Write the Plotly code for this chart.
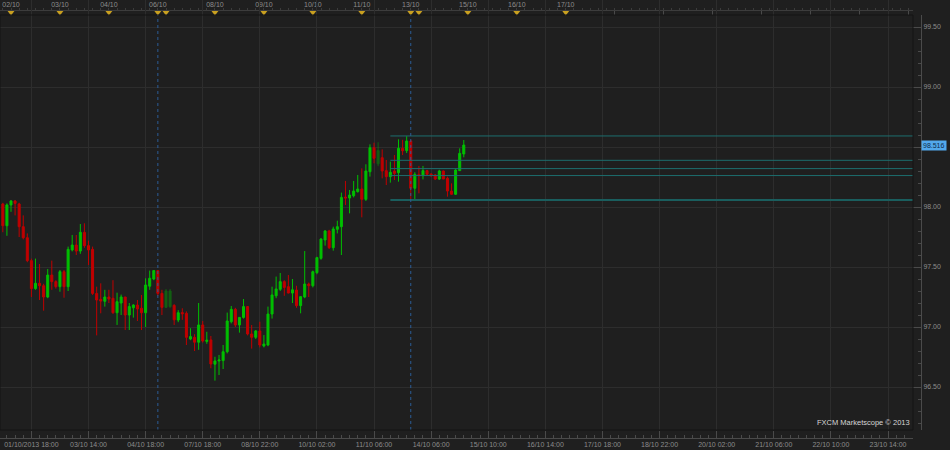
import plotly.graph_objects as go

# ---------------- data (2-hour candles, x = bar number, 0 = 02/10 00:00) ----------------
bar_no = list(range(-2, 112))
opens = [98.025, 97.844, 98.017, 98.050, 98.025, 97.836, 97.744, 97.553, 97.320, 97.364,
         97.344, 97.250, 97.433, 97.378, 97.336, 97.461, 97.336, 97.642, 97.683, 97.633,
         97.789, 97.678, 97.647, 97.280, 97.230, 97.214, 97.250, 97.239, 97.119, 97.200,
         97.250, 97.100, 97.160, 97.183, 97.156, 97.119, 97.340, 97.400, 97.470, 97.280,
         97.164, 97.170, 97.180, 97.058, 97.120, 97.114, 96.900, 96.914, 96.873, 97.017,
         96.880, 96.892, 96.690, 96.717, 96.720, 96.794, 97.044, 97.147, 97.017, 97.080,
         97.170, 96.942, 96.914, 96.967, 96.842, 96.850, 97.108, 97.260, 97.314, 97.378,
         97.336, 97.283, 97.308, 97.178, 97.250, 97.358, 97.344, 97.453, 97.572, 97.725,
         97.800, 97.661, 97.814, 97.836, 98.083, 98.075, 98.094, 98.128, 98.150, 98.064,
         98.294, 98.494, 98.360, 98.411, 98.303, 98.253, 98.300, 98.286, 98.489, 98.470,
         98.550, 98.156, 98.272, 98.261, 98.303, 98.275, 98.267, 98.233, 98.300, 98.239,
         98.133, 98.106, 98.303, 98.442]
highs = [98.035, 98.030, 98.058, 98.058, 98.035, 97.930, 97.780, 97.570, 97.570, 97.525,
         97.360, 97.483, 97.553, 97.390, 97.475, 97.475, 97.670, 97.767, 97.767, 97.858,
         97.864, 97.720, 97.670, 97.336, 97.364, 97.310, 97.310, 97.390, 97.286, 97.270,
         97.250, 97.200, 97.190, 97.225, 97.267, 97.406, 97.470, 97.475, 97.475, 97.310,
         97.317, 97.317, 97.190, 97.140, 97.156, 97.130, 96.990, 96.940, 97.200, 97.050,
         96.960, 96.925, 96.752, 96.767, 96.850, 97.120, 97.175, 97.160, 97.040, 97.233,
         97.175, 97.017, 96.975, 97.044, 96.933, 97.170, 97.336, 97.420, 97.450, 97.390,
         97.433, 97.400, 97.344, 97.250, 97.633, 97.370, 97.470, 97.585, 97.740, 97.808,
         97.810, 97.836, 97.886, 98.120, 98.217, 98.142, 98.217, 98.267, 98.322, 98.356,
         98.522, 98.536, 98.540, 98.480, 98.392, 98.378, 98.433, 98.564, 98.560, 98.590,
         98.560, 98.290, 98.342, 98.342, 98.310, 98.280, 98.275, 98.310, 98.303, 98.253,
         98.197, 98.320, 98.489, 98.558]
lows = [97.790, 97.760, 97.960, 97.930, 97.750, 97.730, 97.540, 97.250, 97.310, 97.225,
        97.136, 97.240, 97.310, 97.320, 97.294, 97.244, 97.300, 97.630, 97.600, 97.610,
        97.660, 97.517, 97.267, 96.930, 97.114, 97.170, 97.200, 97.110, 97.017, 97.100,
        96.975, 96.975, 97.078, 97.050, 96.975, 97.000, 97.310, 97.390, 97.260, 97.100,
        97.160, 97.160, 97.017, 97.040, 97.060, 96.850, 96.890, 96.800, 96.810, 96.870,
        96.860, 96.656, 96.553, 96.600, 96.650, 96.780, 97.030, 97.000, 96.953, 97.070,
        96.930, 96.820, 96.900, 96.830, 96.830, 96.840, 97.070, 97.240, 97.300, 97.260,
        97.280, 97.200, 97.160, 97.114, 97.240, 97.250, 97.330, 97.440, 97.560, 97.678,
        97.650, 97.636, 97.780, 97.600, 98.017, 97.947, 98.080, 98.120, 97.914, 98.050,
        98.253, 98.364, 98.340, 98.239, 98.183, 98.203, 98.225, 98.211, 98.433, 98.450,
        98.058, 98.058, 98.114, 98.230, 98.260, 98.250, 98.225, 98.225, 98.236, 98.086,
        98.100, 98.100, 98.300, 98.414]
closes = [97.844, 98.017, 98.050, 98.030, 97.836, 97.744, 97.553, 97.320, 97.364, 97.344,
          97.250, 97.433, 97.378, 97.336, 97.461, 97.336, 97.647, 97.683, 97.633, 97.789,
          97.678, 97.642, 97.280, 97.225, 97.216, 97.250, 97.233, 97.119, 97.211, 97.250,
          97.100, 97.170, 97.183, 97.150, 97.119, 97.350, 97.406, 97.470, 97.280, 97.164,
          97.300, 97.300, 97.060, 97.119, 97.110, 96.914, 96.920, 96.873, 97.017, 96.883,
          96.890, 96.692, 96.717, 96.725, 96.794, 97.050, 97.147, 97.017, 97.080, 97.170,
          96.942, 96.914, 96.967, 96.850, 96.858, 97.108, 97.267, 97.317, 97.378, 97.330,
          97.283, 97.310, 97.178, 97.253, 97.358, 97.344, 97.461, 97.578, 97.733, 97.800,
          97.661, 97.817, 97.836, 98.080, 98.075, 98.100, 98.133, 98.150, 98.064, 98.300,
          98.494, 98.406, 98.470, 98.300, 98.253, 98.289, 98.280, 98.489, 98.469, 98.550,
          98.156, 98.272, 98.261, 98.303, 98.272, 98.261, 98.233, 98.300, 98.233, 98.133,
          98.106, 98.308, 98.447, 98.516]
dim_bars = [38, 39, 90]

# bottom time axis
time_ticks = [5, 19, 33, 47, 61, 75, 89, 103, 117, 131, 145, 159, 173, 187, 201, 215]
time_labels = ["01/10/2013 18:00", "03/10 14:00", "04/10 18:00", "07/10 18:00", "08/10 22:00",
               "10/10 02:00", "11/10 06:00", "14/10 06:00", "15/10 10:00", "16/10 14:00",
               "17/10 18:00", "18/10 22:00", "20/10 02:00", "21/10 06:00", "22/10 10:00",
               "23/10 14:00"]
# top day axis
day_ticks = [0, 12, 24, 36, 38, 50, 62, 74, 86, 98, 100, 112, 124, 136,
             148, 160, 172, 184, 196, 208, 220]
day_labels = ["02/10", "03/10", "04/10", "06/10", "", "08/10", "09/10", "10/10", "11/10",
              "13/10", "", "15/10", "16/10", "17/10", "", "", "", "", "", "", ""]
day_markers = [0, 12, 24, 36, 38, 50, 62, 74, 86, 98, 100, 112, 124, 136]
session_breaks = [36, 98]

price_ticks = [96.5, 97.0, 97.5, 98.0, 98.5, 99.0, 99.5]
price_labels = ["96.50", "97.00", "97.50", "98.00", "", "99.00", "99.50"]  # 98.50 hidden by price box
level_start = 93
levels = [98.592, 98.389, 98.320, 98.262, 98.058]
last_price = 98.516

# ---------------- figure ----------------
X_RANGE = [-2.697, 221.13]
Y_RANGE = [96.1417, 99.6]
GREEN = "#00bf00"
RED = "#c00000"
AXC = "#8c8c8c"
FONT = "Liberation Sans"

norm = [k for k, b in enumerate(bar_no) if b not in dim_bars]
dim = [k for k, b in enumerate(bar_no) if b in dim_bars]


def pick(lst, idx):
    return [lst[k] for k in idx]


fig = go.Figure()
for idx, op in ((norm, 1.0), (dim, 0.4)):
    fig.add_trace(go.Candlestick(
        x=pick(bar_no, idx), open=pick(opens, idx), high=pick(highs, idx),
        low=pick(lows, idx), close=pick(closes, idx),
        increasing=dict(line=dict(color=GREEN, width=1), fillcolor=GREEN),
        decreasing=dict(line=dict(color=RED, width=1), fillcolor=RED),
        whiskerwidth=0, opacity=op, hoverinfo="skip", showlegend=False))

for i, lv in enumerate(levels):
    fig.add_trace(go.Scatter(
        x=[level_start, X_RANGE[1]], y=[lv, lv], mode="lines",
        line=dict(color="#1d6e6e" if i < 4 else "#1a5e5e", width=1 if i < 4 else 2),
        hoverinfo="skip", showlegend=False))

fig.add_trace(go.Scatter(
    x=day_markers, y=[0.17] * len(day_markers), mode="markers",
    marker=dict(symbol="triangle-down", size=6, color="#c9a020", line=dict(width=0)),
    xaxis="x", yaxis="y3", hoverinfo="skip", showlegend=False, cliponaxis=False))
fig.add_trace(go.Scatter(x=[day_ticks[0]], y=[None], xaxis="x2", yaxis="y",
                         showlegend=False, hoverinfo="skip"))

for b in session_breaks:
    fig.add_shape(type="line", xref="x", yref="y domain", x0=b, x1=b, y0=0, y1=1,
                  line=dict(color="#2b5c96", width=1, dash="dot"))

fig.add_shape(type="rect", xref="x domain", yref="y domain", x0=0, x1=1, y0=0, y1=1,
              line=dict(color="#141414", width=1))

PH = 438.0
PW = 921.0
fig.update_layout(
    width=950, height=450,
    margin=dict(l=0, r=29, t=0, b=12, pad=0, autoexpand=False),
    paper_bgcolor="#1f1f1f", plot_bgcolor="#1f1f1f",
    font=dict(family=FONT, size=7, color=AXC),
    showlegend=False,
    xaxis=dict(
        domain=[0, 913 / PW], range=X_RANGE, anchor="free", position=0,
        rangeslider=dict(visible=False),
        tickmode="array", tickvals=time_ticks, ticktext=time_labels,
        ticks="inside", ticklen=7, tickcolor="#4a4a4a", tickwidth=1,
        showline=True, linecolor="#4a4a4a", linewidth=1,
        showgrid=True, gridcolor="#2d2d2d", gridwidth=1, zeroline=False,
        tickfont=dict(size=7, color=AXC, family=FONT),
        minor=dict(ticks="inside", ticklen=3, tick0=1, dtick=2, tickcolor="#4a4a4a",
                   showgrid=False),
    ),
    xaxis2=dict(
        domain=[0, 913 / PW], range=X_RANGE, overlaying="x", anchor="free",
        position=(PH - 10) / PH, side="top",
        tickmode="array", tickvals=day_ticks, ticktext=day_labels,
        ticks="inside", ticklen=4, tickcolor="#4a4a4a",
        showline=True, linecolor="#3c3c3c", showgrid=False, zeroline=False,
        tickfont=dict(size=7, color=AXC, family=FONT),
        minor=dict(ticks="outside", ticklen=2, tick0=0, dtick=2, tickcolor="#3c3c3c",
                   showgrid=False),
    ),
    yaxis=dict(
        domain=[(PH - 430) / PH, (PH - 15) / PH], range=Y_RANGE,
        anchor="free", position=1, side="right",
        tickmode="array", tickvals=price_ticks, ticktext=price_labels,
        ticks="inside", ticklen=8, tickcolor="#4a4a4a",
        showline=True, linecolor="#4a4a4a",
        showgrid=True, gridcolor="#2d2d2d", zeroline=False,
        tickfont=dict(size=7, color=AXC, family=FONT),
        minor=dict(ticks="inside", ticklen=3, tick0=0, dtick=0.1, tickcolor="#4a4a4a",
                   showgrid=False),
    ),
    yaxis3=dict(domain=[(PH - 15) / PH, 1], range=[0, 1], visible=False,
                anchor="x", fixedrange=True),
    annotations=[
        dict(xref="paper", x=1, xanchor="left", yref="y", y=last_price, yanchor="middle",
             text="98.516", showarrow=False, bgcolor="#52a8ec", borderpad=1,
             font=dict(size=7, color="#0f2c4a", family=FONT)),
        dict(xref="x domain", x=1, xanchor="right", xshift=-1, yref="y domain", y=0,
             yanchor="bottom", yshift=1, text="FXCM Marketscope © 2013", showarrow=False,
             font=dict(size=7.5, color="#d6d6d6", family=FONT)),
    ],
)

fig.write_html("out.html",
               config={"displayModeBar": False, "staticPlot": True},
               post_script="document.body.style.margin='0';"
                           "document.body.style.overflow='hidden';"
                           "document.body.style.background='#1f1f1f';")
